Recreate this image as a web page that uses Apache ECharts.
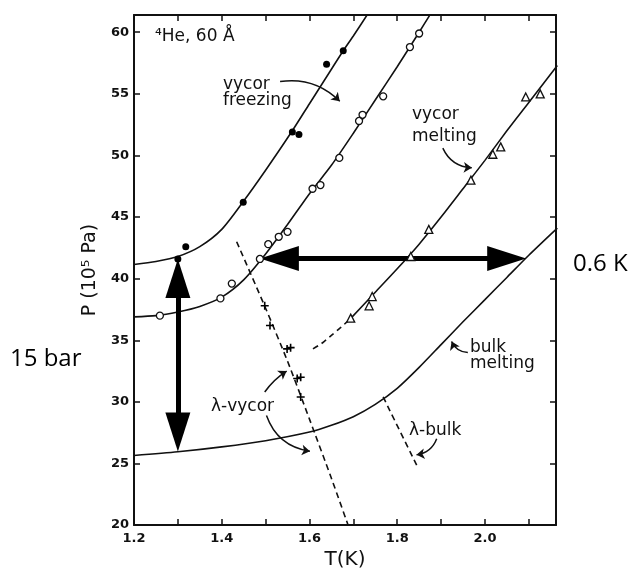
<!DOCTYPE html>
<html><head><meta charset="utf-8">
<script src="https://cdn.jsdelivr.net/npm/echarts@6/dist/echarts.min.js"></script>
<style>html,body{margin:0;padding:0;background:#fff}#c{width:631px;height:575px}</style>
</head><body><div id="c"></div>
<script>
// ---- axis ranges / ticks ----
const xMin = 1.2, xMax = 2.162, xStep = 0.1;
const yMin = 20, yMax = 61.4, yStep = 5;

// ---- vycor freezing (filled circles) ----
const freezeLineT = [1.2, 1.25, 1.3, 1.35, 1.4, 1.45, 1.5, 1.559, 1.6, 1.65, 1.677, 1.7, 1.735];
const freezeLineP = [41.15, 41.4, 41.8, 42.6, 44.0, 46.3, 48.8, 51.9, 54.2, 57.0, 58.5, 59.7, 61.6];
const freezePtsT = [1.300, 1.318, 1.449, 1.561, 1.576, 1.639, 1.677];
const freezePtsP = [41.6, 42.6, 46.2, 51.9, 51.7, 57.4, 58.5];

// ---- vycor melting, open circles ----
const meltLineT = [1.2, 1.25, 1.3, 1.35, 1.4, 1.45, 1.5, 1.55, 1.6, 1.65, 1.7, 1.75, 1.8, 1.85, 1.878];
const meltLineP = [36.9, 37.0, 37.3, 37.75, 38.5, 39.9, 42.0, 44.4, 46.9, 49.2, 51.8, 54.5, 57.2, 60.0, 61.6];
const meltPtsT = [1.259, 1.397, 1.423, 1.487, 1.506, 1.530, 1.550, 1.607, 1.625, 1.668, 1.713, 1.721, 1.768, 1.829, 1.850];
const meltPtsP = [37.0, 38.4, 39.6, 41.6, 42.8, 43.4, 43.8, 47.3, 47.6, 49.8, 52.8, 53.3, 54.8, 58.8, 59.9];

// ---- vycor melting, triangles ----
const melt2DashT = [1.608, 1.63, 1.65, 1.67, 1.692];
const melt2DashP = [34.3, 34.8, 35.4, 36.0, 36.7];
const melt2LineT = [1.692, 1.75, 1.8, 1.85, 1.9, 1.95, 2.0, 2.05, 2.1, 2.165];
const melt2LineP = [36.7, 38.9, 40.8, 42.8, 45.0, 47.3, 49.6, 52.0, 54.3, 57.3];
const melt2PtsT = [1.694, 1.736, 1.743, 1.831, 1.872, 1.968, 2.018, 2.036, 2.093, 2.126];
const melt2PtsP = [36.8, 37.8, 38.55, 41.8, 44.0, 48.0, 50.1, 50.7, 54.75, 55.0];

// ---- bulk melting ----
const bulkT = [1.2, 1.3, 1.4, 1.5, 1.6, 1.65, 1.7, 1.75, 1.8, 1.85, 1.9, 1.95, 2.0, 2.05, 2.1, 2.165];
const bulkP = [25.65, 25.95, 26.35, 26.85, 27.55, 28.1, 28.8, 29.8, 31.1, 32.8, 34.65, 36.5, 38.3, 40.1, 41.9, 44.1];

// ---- lambda lines ----
const lamVycorT = [1.434, 1.5, 1.55, 1.6, 1.65, 1.69];
const lamVycorP = [43.0, 37.6, 33.3, 28.6, 23.8, 19.8];
const lamVycorPtsT = [1.498, 1.510, 1.549, 1.557, 1.572, 1.580, 1.580];
const lamVycorPtsP = [37.8, 36.2, 34.3, 34.4, 31.9, 32.0, 30.4];
const lamBulkT = [1.768, 1.848];
const lamBulkP = [30.4, 24.6];

// ---- annotation pointer arrows: [T0,P0,T1,P1,curveness] ----
const pointerArrows = [
  [1.533, 56.0, 1.669, 54.4, 0.25],
  [1.904, 50.6, 1.970, 49.0, -0.3],
  [1.961, 34.0, 1.924, 34.9, 0.3],
  [1.502, 28.9, 1.601, 26.0, -0.3],
  [1.498, 30.8, 1.548, 32.5, 0.1],
  [1.890, 27.0, 1.844, 25.7, 0.3]
];

// ---- big double arrows (tips) ----
const vArrowT = 1.3, vArrowP = [41.6, 25.97];
const hArrowP = 41.63, hArrowT = [1.487, 2.094];

const zip = (a, b) => a.map((v, i) => [v, b[i]]);
const INK = '#111';
const FONT = 'DejaVu Sans';

const lineS = (T, P, dashed) => ({
  type: 'line', data: zip(T, P), smooth: 0.25, showSymbol: false, symbol: 'none',
  lineStyle: { color: INK, width: 1.6, type: dashed ? [6, 4] : 'solid' }, silent: true, z: 2
});
const plusPath = 'path://M4,0H6V4H10V6H6V10H4V6H0V4H4Z';

const headW = 25, headH = 39;
const insetP = 1.6, insetT = 0.05;

const chart = echarts.init(document.getElementById('c'), null, { renderer: 'canvas' });
chart.setOption({
  animation: false,
  backgroundColor: '#fff',
  grid: { left: 134, right: 75, top: 15, bottom: 44, containLabel: false },
  xAxis: [{
    type: 'value', min: xMin, max: xMax, interval: xStep, position: 'bottom',
    axisLine: { lineStyle: { color: INK, width: 2 } },
    axisTick: { inside: true, length: 6, lineStyle: { color: INK, width: 1.5 } },
    splitLine: { show: false },
    axisLabel: {
      color: INK, fontFamily: FONT, fontWeight: 'bold', fontSize: 13, margin: 7,
      formatter: v => { const r = Math.round(v * 10); if (Math.abs(v * 10 - r) > 1e-6 || r % 2) return ''; return (r / 10).toFixed(1); }
    },
    name: 'T(K)', nameLocation: 'middle', nameGap: 23,
    nameTextStyle: { color: INK, fontFamily: FONT, fontSize: 20 }
  }, {
    type: 'value', min: xMin, max: xMax, interval: xStep, position: 'top',
    axisLine: { lineStyle: { color: INK, width: 2 } },
    axisTick: { inside: true, length: 6, lineStyle: { color: INK, width: 1.5 } },
    axisLabel: { show: false }, splitLine: { show: false }
  }],
  yAxis: [{
    type: 'value', min: yMin, max: yMax, interval: yStep, position: 'left',
    axisLine: { show: true, lineStyle: { color: INK, width: 2 } },
    axisTick: { show: true, inside: true, length: 6, lineStyle: { color: INK, width: 1.5 } },
    splitLine: { show: false },
    axisLabel: {
      color: INK, fontFamily: FONT, fontWeight: 'bold', fontSize: 13, margin: 5,
      formatter: v => (Math.abs(v % 5) < 1e-6 ? String(Math.round(v)) : '')
    },
    name: 'P (10\u2075 Pa)', nameLocation: 'middle', nameGap: 28, nameRotate: 90,
    nameTextStyle: { color: INK, fontFamily: FONT, fontSize: 19 }
  }, {
    type: 'value', min: yMin, max: yMax, interval: yStep, position: 'right',
    axisLine: { show: true, lineStyle: { color: INK, width: 2 } },
    axisTick: { show: true, inside: true, length: 6, lineStyle: { color: INK, width: 1.5 } },
    axisLabel: { show: false }, splitLine: { show: false }
  }],
  series: [
    lineS(freezeLineT, freezeLineP, false),
    lineS(meltLineT, meltLineP, false),
    lineS(melt2DashT, melt2DashP, true),
    lineS(melt2LineT, melt2LineP, false),
    lineS(bulkT, bulkP, false),
    lineS(lamVycorT, lamVycorP, true),
    lineS(lamBulkT, lamBulkP, true),
    {
      type: 'lines', coordinateSystem: 'cartesian2d', silent: true, z: 3,
      symbol: ['none', 'arrow'], symbolSize: 8,
      lineStyle: { color: INK, width: 1.5, opacity: 1 },
      data: pointerArrows.map(a => ({ coords: [[a[0], a[1]], [a[2], a[3]]], lineStyle: { curveness: a[4] } }))
    },
    {
      type: 'lines', coordinateSystem: 'cartesian2d', silent: true, z: 4,
      symbol: ['none', 'none'],
      lineStyle: { color: '#000', width: 5, opacity: 1, cap: 'butt' },
      data: [
        { coords: [[vArrowT, vArrowP[0] - insetP], [vArrowT, vArrowP[1] + insetP]] },
        { coords: [[hArrowT[0] + insetT, hArrowP], [hArrowT[1] - insetT, hArrowP]] }
      ]
    },
    {
      type: 'scatter', silent: true, z: 5, symbol: 'triangle', symbolSize: [headW, headH],
      itemStyle: { color: '#000', opacity: 1 },
      data: [
        { value: [vArrowT, vArrowP[0]], symbolRotate: 0, symbolOffset: [0, headH / 2] },
        { value: [vArrowT, vArrowP[1]], symbolRotate: 180, symbolOffset: [0, -headH / 2] },
        { value: [hArrowT[0], hArrowP], symbolRotate: 90, symbolOffset: [headH / 2, 0] },
        { value: [hArrowT[1], hArrowP], symbolRotate: -90, symbolOffset: [-headH / 2, 0] }
      ]
    },
    {
      type: 'scatter', data: zip(freezePtsT, freezePtsP), symbol: 'circle', symbolSize: 7,
      itemStyle: { color: '#000', opacity: 1 }, silent: true, z: 6
    },
    {
      type: 'scatter', data: zip(meltPtsT, meltPtsP), symbol: 'circle', symbolSize: 7,
      itemStyle: { color: '#fff', borderColor: INK, borderWidth: 1.3, opacity: 1 }, silent: true, z: 6
    },
    {
      type: 'scatter', data: zip(melt2PtsT, melt2PtsP), symbol: 'triangle', symbolSize: 8,
      itemStyle: { color: '#fff', borderColor: INK, borderWidth: 1.3, opacity: 1 }, silent: true, z: 6
    },
    {
      type: 'scatter', data: zip(lamVycorPtsT, lamVycorPtsP), symbol: plusPath, symbolSize: 8,
      itemStyle: { color: '#000', opacity: 1 }, silent: true, z: 6
    }
  ],
  graphic: [
    { type: 'text', x: 155, y: 37, style: { text: '\u2074He, 60 \u00c5', font: '17px "DejaVu Sans"', fill: INK, verticalAlign: 'middle' } },
    { type: 'text', x: 223, y: 85, style: { text: 'vycor', font: '17px "DejaVu Sans"', fill: INK, verticalAlign: 'middle' } },
    { type: 'text', x: 223, y: 100.5, style: { text: 'freezing', font: '17px "DejaVu Sans"', fill: INK, verticalAlign: 'middle' } },
    { type: 'text', x: 412, y: 115, style: { text: 'vycor', font: '17px "DejaVu Sans"', fill: INK, verticalAlign: 'middle' } },
    { type: 'text', x: 412, y: 137, style: { text: 'melting', font: '17px "DejaVu Sans"', fill: INK, verticalAlign: 'middle' } },
    { type: 'text', x: 470, y: 347.5, style: { text: 'bulk', font: '17px "DejaVu Sans"', fill: INK, verticalAlign: 'middle' } },
    { type: 'text', x: 470, y: 364, style: { text: 'melting', font: '17px "DejaVu Sans"', fill: INK, verticalAlign: 'middle' } },
    { type: 'text', x: 211, y: 407, style: { text: '\u03bb-vycor', font: '17px "DejaVu Sans"', fill: INK, verticalAlign: 'middle' } },
    { type: 'text', x: 409, y: 431, style: { text: '\u03bb-bulk', font: '17px "DejaVu Sans"', fill: INK, verticalAlign: 'middle' } },
    { type: 'text', x: 10, y: 359.5, style: { text: '15 bar', font: '24px "Open Sans"', fill: '#000', verticalAlign: 'middle' } },
    { type: 'text', x: 573, y: 264.5, style: { text: '0.6 K', font: '24px "Open Sans"', fill: '#000', verticalAlign: 'middle' } }
  ]
});
</script></body></html>
